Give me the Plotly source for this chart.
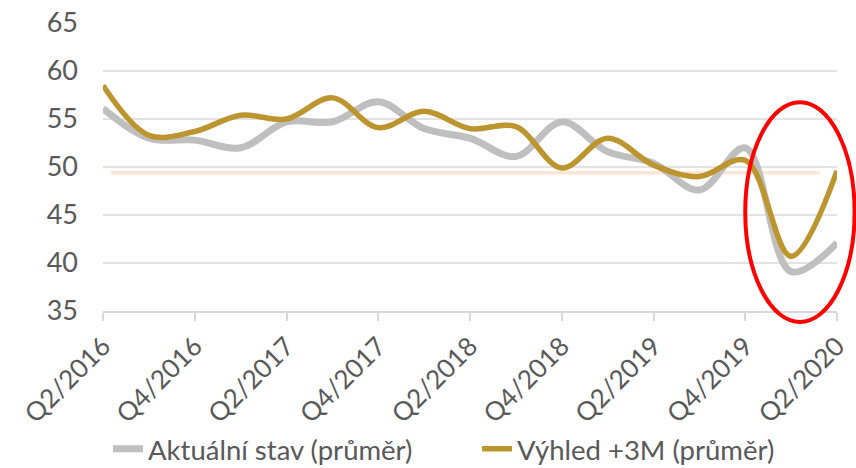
import plotly.graph_objects as go

# ---- data -------------------------------------------------------------
quarters = ["Q2/2016", "Q3/2016", "Q4/2016", "Q1/2017", "Q2/2017", "Q3/2017",
            "Q4/2017", "Q1/2018", "Q2/2018", "Q3/2018", "Q4/2018", "Q1/2019",
            "Q2/2019", "Q3/2019", "Q4/2019", "Q1/2020", "Q2/2020"]
aktualni = [56.1, 53.0, 52.8, 52.0, 54.7, 54.7, 56.8, 54.0, 53.0, 51.1,
            54.7, 51.6, 50.4, 47.6, 52.0, 39.1, 42.1]
vyhled = [58.5, 53.3, 53.7, 55.4, 55.0, 57.2, 54.1, 55.8, 54.0, 54.2,
          49.9, 53.0, 50.2, 49.0, 50.7, 40.7, 49.6]
tick_labels = quarters[::2]
y_ticks = [35, 40, 45, 50, 55, 60, 65]
reference_level = 49.4
series_names = ["Aktuální stav (průměr)", "Výhled +3M (průměr)"]

# ---- style ------------------------------------------------------------
FONT = "Lato"
TXT = "#595959"
GRAY = "#bfbfbf"
GOLD = "#bd952f"

fig = go.Figure()
fig.add_trace(go.Scatter(
    x=quarters, y=aktualni, name=series_names[0], mode="lines",
    line=dict(color=GRAY, width=7, shape="spline", smoothing=1.0),
))
fig.add_trace(go.Scatter(
    x=quarters, y=vyhled, name=series_names[1], mode="lines",
    line=dict(color=GOLD, width=5.5, shape="spline", smoothing=1.0),
))

# reference line (~50 level)
fig.add_shape(type="line", xref="x", yref="y",
              x0=0.17, x1=15.63, y0=reference_level, y1=reference_level,
              line=dict(color="#fde6d8", width=3.5), layer="between")

# red highlight ellipse
fig.add_shape(type="circle", xref="paper", yref="paper",
              x0=0.875, x1=1.024, y0=-0.038, y1=0.725,
              line=dict(color="#ff0000", width=4), layer="above")

fig.update_layout(
    width=856, height=468,
    margin=dict(l=103, r=19, t=23, b=157, autoexpand=False),
    paper_bgcolor="white", plot_bgcolor="white",
    font=dict(family=FONT, color=TXT, size=26),
    showlegend=True,
    legend=dict(orientation="h", xref="container", x=108 / 856, xanchor="left",
                y=-0.479, yanchor="middle",
                font=dict(family=FONT, size=27.5, color=TXT),
                bgcolor="rgba(0,0,0,0)", itemwidth=30,
                entrywidth=324, entrywidthmode="pixels"),
    xaxis=dict(
        type="category", categoryorder="array", categoryarray=quarters,
        range=[0, len(quarters) - 1], automargin=False,
        tickmode="array", tickvals=tick_labels, ticktext=tick_labels,
        tickangle=-45, tickfont=dict(family=FONT, size=26, color=TXT),
        showgrid=False, showline=True, linecolor="#d9d9d9", linewidth=1.5,
        ticks="outside", ticklen=8, tickcolor="#d9d9d9", tickwidth=1.5,
        zeroline=False,
    ),
    yaxis=dict(
        range=[35, 65], tickmode="array", tickvals=y_ticks, automargin=False,
        tickfont=dict(family=FONT, size=27, color=TXT),
        showgrid=True, gridcolor="#e3e3e3", gridwidth=1.5,
        zeroline=False, showline=False, ticks="",
        ticklabelstandoff=24,
    ),
)

fig.write_html(
    "out.html",
    config={"displayModeBar": False},
    post_script="document.body.style.margin='0';document.body.style.overflow='hidden';",
)
